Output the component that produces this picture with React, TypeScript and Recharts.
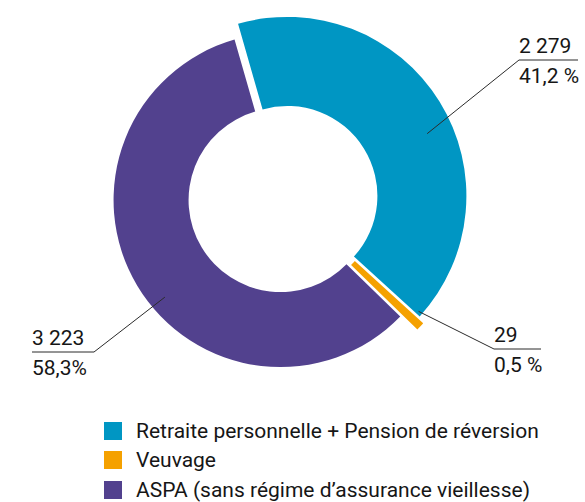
import { Legend, Pie, PieChart } from 'recharts'

const categories = [
  'Retraite personnelle + Pension de réversion',
  'Veuvage',
  'ASPA (sans régime d’assurance vieillesse)',
]
const counts = [2279, 29, 3223]
const countLabels = ['2 279', '29', '3 223']
const shareLabels = ['41,2 %', '0,5 %', '58,3%']
const colors = ['#0096c3', '#f5a100', '#52418e']

const W = 585
const H = 502
const CX = 284
const CY = 198
// first slice starts a bit left of 12 o'clock, slices run clockwise
const START = -16

const sliceStyle = [
  { explode: 4, inner: 90, outer: 179 },
  { explode: 6, inner: 90, outer: 180 },
  { explode: 4, inner: 92, outer: 167 },
]

// leader line: start inside the slice (angle clockwise from top, radius), knee, end of underline
const labelLayout = [
  { angle: 66, radius: 153, kneeX: 519, kneeY: 60, endX: 578 },
  { angle: 130, radius: 170, kneeX: 494, kneeY: 349, endX: 541 },
  { angle: 230, radius: 151, kneeX: 94, kneeY: 352, endX: 32 },
]

const rad = (d: number) => (d * Math.PI) / 180
const total = counts.reduce((s, v) => s + v, 0)

const slices = counts.map((value, i) => {
  const before = counts.slice(0, i).reduce((s, v) => s + v, 0)
  const from = START + (360 * before) / total
  const to = START + (360 * (before + value)) / total
  const mid = (from + to) / 2
  const st = sliceStyle[i]
  return {
    i,
    data: [{ name: categories[i], value }],
    startAngle: 90 - from,
    endAngle: 90 - to,
    cx: CX + st.explode * Math.sin(rad(mid)),
    cy: CY - st.explode * Math.cos(rad(mid)),
    ...st,
  }
})

const font = 'Roboto, "Noto Sans", sans-serif'
const ink = '#161616'

const makeLabel = (i: number, cx: number, cy: number) => () => {
  const l = labelLayout[i]
  const sx = cx + l.radius * Math.sin(rad(l.angle))
  const sy = cy - l.radius * Math.cos(rad(l.angle))
  const tx = Math.min(l.kneeX, l.endX)
  return (
    <g key={`lbl-${i}`}>
      <polyline
        points={`${sx},${sy} ${l.kneeX},${l.kneeY} ${l.endX},${l.kneeY}`}
        fill="none"
        stroke="#2b2b2b"
        strokeWidth={1}
      />
      <text x={tx} y={l.kneeY - 7} fontSize={21} fill={ink} fontFamily={font}>
        {countLabels[i]}
      </text>
      <text x={tx} y={l.kneeY + 23} fontSize={21} fill={ink} fontFamily={font}>
        {shareLabels[i]}
      </text>
    </g>
  )
}

const renderLegend = () => (
  <div style={{ fontFamily: font, fontSize: 21, color: ink }}>
    {categories.map((c, i) => (
      <div key={c} style={{ display: 'flex', alignItems: 'center', height: 29.5 }}>
        <span style={{ width: 18, height: 18, background: colors[i], marginRight: 14, flexShrink: 0 }} />
        <span>{c}</span>
      </div>
    ))}
  </div>
)

export default function App() {
  return (
    <div style={{ position: 'absolute', left: 0, top: 0, width: W, height: H, background: '#fff' }}>
      <PieChart width={W} height={H} margin={{ top: 0, right: 0, bottom: 0, left: 0 }}>
        {slices.map((s) => (
          <Pie
            key={s.i}
            data={s.data}
            dataKey="value"
            nameKey="name"
            cx={s.cx}
            cy={s.cy}
            innerRadius={s.inner}
            outerRadius={s.outer}
            startAngle={s.startAngle}
            endAngle={s.endAngle}
            fill={colors[s.i]}
            stroke={s.i === 1 ? colors[s.i] : 'none'}
            strokeWidth={s.i === 1 ? 2.5 : 0}
            label={makeLabel(s.i, s.cx, s.cy)}
            labelLine={false}
            isAnimationActive={false}
          />
        ))}
        <Legend content={renderLegend} wrapperStyle={{ left: 104, top: 416, width: 480 }} />
      </PieChart>
    </div>
  )
}
